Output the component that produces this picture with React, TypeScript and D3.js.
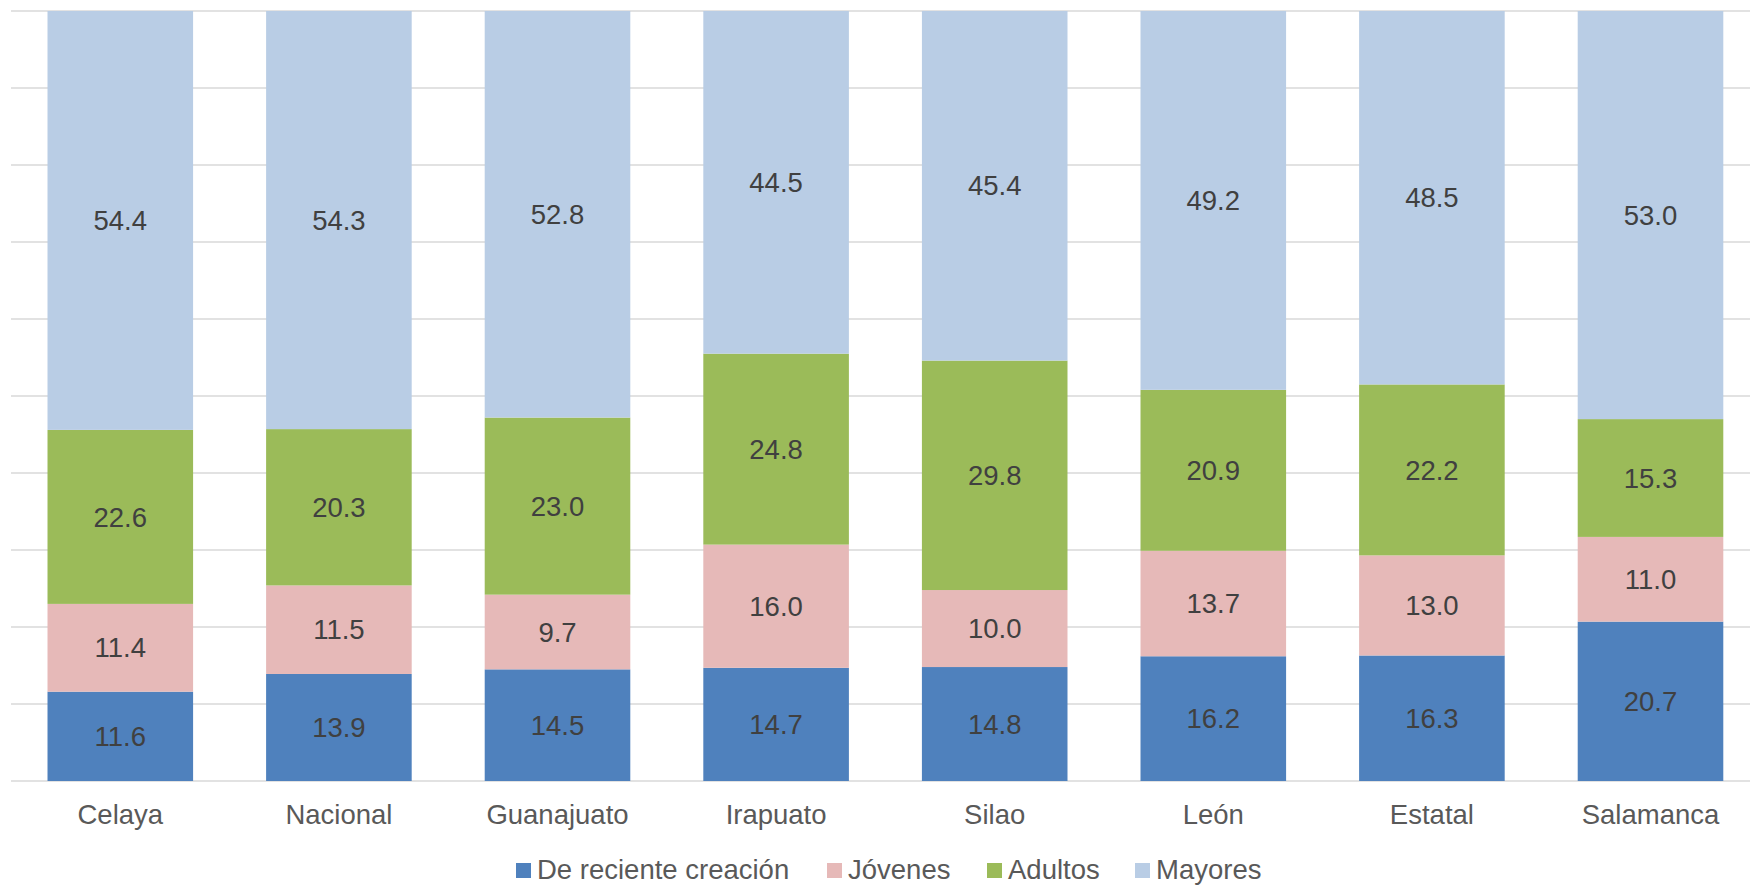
import React from "react";
import * as d3 from "d3";

const categories = ["Celaya", "Nacional", "Guanajuato", "Irapuato", "Silao", "León", "Estatal", "Salamanca"];
const seriesNames = ["De reciente creación", "Jóvenes", "Adultos", "Mayores"];
const recienteCreacion = [11.6, 13.9, 14.5, 14.7, 14.8, 16.2, 16.3, 20.7];
const jovenes = [11.4, 11.5, 9.7, 16.0, 10.0, 13.7, 13.0, 11.0];
const adultos = [22.6, 20.3, 23.0, 24.8, 29.8, 20.9, 22.2, 15.3];
const mayores = [54.4, 54.3, 52.8, 44.5, 45.4, 49.2, 48.5, 53.0];
const yTicks = [0, 10, 20, 30, 40, 50, 60, 70, 80, 90, 100];
const colors = ["#4f81bd", "#e6b9b8", "#9bbb59", "#b9cde5"];

const W = 1750;
const H = 887;
const FONT = "'Liberation Sans', Arial, sans-serif";
const FS = 27.5;

export default function App() {
  const seriesValues = [recienteCreacion, jovenes, adultos, mayores];
  const rows = categories.map((c, i) => {
    const r: any = { cat: c };
    seriesNames.forEach((s, j) => (r[s] = seriesValues[j][i]));
    return r;
  });
  const stack = d3.stack<any>().keys(seriesNames)(rows);

  const x = d3
    .scaleBand<string>()
    .domain(categories)
    .range([11, 11 + 8 * 218.6])
    .paddingInner(0.334)
    .paddingOuter(0.167);
  const y = d3.scaleLinear().domain([0, 100]).range([781, 11]);

  const legendX = [516, 827, 987, 1135];

  return (
    <svg
      width={W}
      height={H}
      style={{ position: "absolute", left: 0, top: 0, background: "#fff" }}
      fontFamily={FONT}
    >
      {yTicks.map((t) => (
        <line key={t} x1={11} x2={W} y1={y(t)} y2={y(t)} stroke="#d9d9d9" strokeWidth={1.5} />
      ))}
      {stack.map((layer, si) => (
        <g key={seriesNames[si]}>
          {layer.map((d, i) => (
            <rect
              key={i}
              x={x(categories[i])!}
              width={x.bandwidth()}
              y={y(d[1])}
              height={y(d[0]) - y(d[1])}
              fill={colors[si]}
            />
          ))}
          {layer.map((d, i) => (
            <text
              key={"t" + i}
              x={x(categories[i])! + x.bandwidth() / 2}
              y={(y(d[0]) + y(d[1])) / 2}
              dy="0.35em"
              textAnchor="middle"
              fontSize={FS}
              fill="#404040"
            >
              {seriesValues[si][i].toFixed(1)}
            </text>
          ))}
        </g>
      ))}
      {categories.map((c) => (
        <text
          key={c}
          x={x(c)! + x.bandwidth() / 2}
          y={824}
          textAnchor="middle"
          fontSize={FS}
          fill="#595959"
        >
          {c}
        </text>
      ))}
      {seriesNames.map((s, i) => (
        <g key={s}>
          <rect x={legendX[i]} y={863} width={15} height={15} fill={colors[i]} />
          <text x={legendX[i] + 21} y={879} fontSize={FS} fill="#595959">
            {s}
          </text>
        </g>
      ))}
    </svg>
  );
}
